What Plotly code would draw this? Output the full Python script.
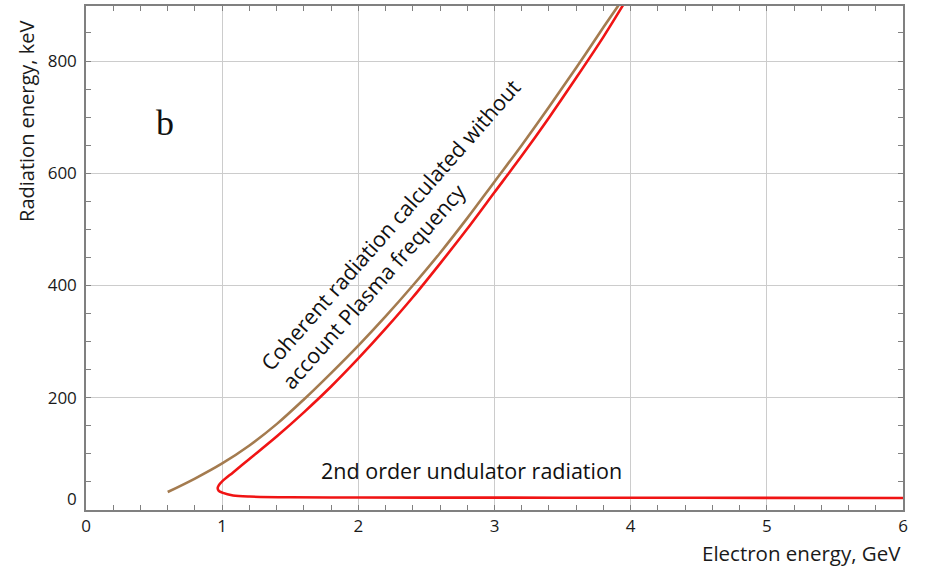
import plotly.graph_objects as go

# Coherent radiation calculated without account of plasma frequency (brown)
brown_x = [0.6, 0.8, 1.0, 1.2, 1.4, 1.6, 1.8, 2.0, 2.2, 2.4, 2.6, 2.8, 3.0, 3.2, 3.4, 3.6, 3.8, 3.91]
brown_y = [32, 56, 83, 115, 153, 197, 244, 293, 345, 400, 458, 520, 585, 650, 718, 788, 860, 899]

# Red curve: upper branch (from top) -> nose -> 2nd order undulator branch
red_x = [3.943, 3.8, 3.6, 3.4, 3.2, 3.0, 2.8, 2.6, 2.4, 2.2, 2.0, 1.8, 1.6, 1.4, 1.2, 1.08, 1.0, 0.975,
         0.967, 0.975, 1.0, 1.08, 1.2, 1.5, 2.0, 3.0, 4.0, 5.0, 6.0]
red_y = [899, 843, 770, 699, 631, 566, 501, 439, 379, 323, 270, 220, 174, 131, 91, 67, 51, 44,
         39, 34, 31, 26, 24, 22.7, 22.3, 22, 21.8, 21.6, 21.5]

x_ticks = [0, 1, 2, 3, 4, 5, 6]
y_ticks = [200, 400, 600, 800]

FONT = "Open Sans"
fig = go.Figure()
fig.add_trace(go.Scatter(x=brown_x, y=brown_y, mode="lines",
                         line=dict(color="#a47b4f", width=2.6, shape="spline", smoothing=1.0),
                         showlegend=False, hoverinfo="skip"))
fig.add_trace(go.Scatter(x=red_x, y=red_y, mode="lines",
                         line=dict(color="#f01414", width=2.6, shape="spline", smoothing=0.8),
                         showlegend=False, hoverinfo="skip"))

axis_common = dict(showline=True, linecolor="#808080", linewidth=1.5, mirror="ticks",
                   showgrid=True, gridcolor="#cccccc", gridwidth=1, zeroline=False,
                   ticks="inside", ticklen=5, tickcolor="#808080",
                   tickfont=dict(family=FONT, size=17, color="#1a1a1a"))

fig.update_xaxes(range=[0, 6], tickvals=x_ticks,
                 minor=dict(dtick=0.2, ticks="inside", ticklen=5, tickcolor="#808080", showgrid=False),
                 **axis_common)
fig.update_yaxes(range=[0, 898], tickvals=y_ticks,
                 minor=dict(dtick=50, ticks="inside", ticklen=5, tickcolor="#808080", showgrid=False),
                 ticklabelstandoff=4,
                 **axis_common)

ann = [
    dict(x=0, y=0, xref="x", yref="y", text="0", showarrow=False, xanchor="right", yanchor="middle",
         xshift=-7, yshift=12, font=dict(family=FONT, size=17, color="#1a1a1a")),
    dict(x=-0.0722, y=0.77, xref="paper", yref="paper", text="Radiation energy, keV", textangle=-90,
         showarrow=False, xanchor="center", yanchor="middle", font=dict(family=FONT, size=20, color="#1a1a1a")),
    dict(x=1.0, y=-0.086, xref="paper", yref="paper", text="Electron energy, GeV",
         showarrow=False, xanchor="right", yanchor="middle", font=dict(family=FONT, size=20.5, color="#1a1a1a")),
    dict(x=0.58, y=690, xref="x", yref="y", text="b", showarrow=False,
         font=dict(family="Liberation Serif", size=36, color="#111111")),
    dict(x=2.834, y=70, xref="x", yref="y", text="2nd order undulator radiation", showarrow=False,
         font=dict(family=FONT, size=21.5, color="#111111")),
    dict(x=2.313, y=493, xref="x", yref="y",
         text="Coherent radiation calculated without<br>account Plasma frequency",
         textangle=-48.6, align="left", showarrow=False,
         font=dict(family=FONT, size=21.5, color="#111111")),
]
fig.update_layout(width=928, height=570, margin=dict(l=86, r=25, t=4, b=60),
                  plot_bgcolor="white", paper_bgcolor="white", annotations=ann)
fig.write_html("out.html")
